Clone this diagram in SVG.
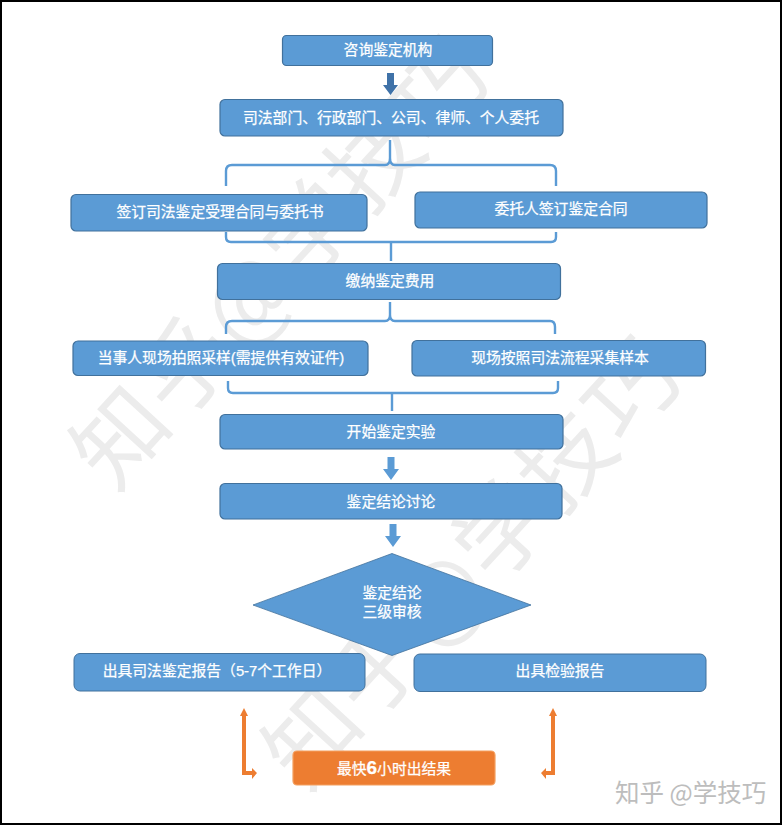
<svg xmlns="http://www.w3.org/2000/svg" width="782" height="826" viewBox="0 0 782 826">
<style>
.wm{font-family:"Noto Sans CJK SC","Noto Sans",sans-serif;font-size:92px;letter-spacing:3px;fill:#ececec;text-anchor:middle}
.b{fill:#5b9bd5;stroke:#41719c;stroke-width:1.2}
.o{fill:#ed7d31;stroke:#f4a060;stroke-width:1.2}
.t{font-family:"Liberation Sans","Noto Sans CJK SC",sans-serif;font-size:14.8px;fill:#fff;text-anchor:middle;stroke:#fff;stroke-width:.25}
.br{fill:none;stroke:#5b9bd5;stroke-width:2.4}
.ar{fill:#5b9bd5}
.oa{fill:#ed7d31}
</style>
<rect x="0" y="0" width="782" height="826" fill="#fff"/>
<g id="watermark">
<text class="wm" transform="translate(305,285) rotate(-47.500)">知乎@学技巧</text>
<text class="wm" transform="translate(497,585) rotate(-47.500)">知乎@学技巧</text>
</g>
<rect x="1" y="1" width="780" height="823" fill="none" stroke="#000" stroke-width="2"/>
<g id="connectors">
<path d="M390 140V158Q390 165 385 165H232Q226 165 226 171V186M390 158Q390 165 395 165H550Q556 165 556 171V186" class="br"/>
<path d="M226 232V237Q226 242 231 242H551Q556 242 556 237V232M391 242V261" class="br"/>
<path d="M390 302V315Q390 321 385 321H232Q226 321 226 327V334M390 315Q390 321 395 321H550Q555 321 555 327V334" class="br"/>
<path d="M228 381V388Q228 393 233 393H553Q558 393 558 388V381M392 393V411" class="br"/>
<path d="M387 73H394V85H398L390.5 95L383 85H387Z" fill="#3f72a8"/>
<path d="M387.500 457H394.500V469H399L391 480L383 469H387.500Z" class="ar"/>
<path d="M389.500 524H396.500V536H401L393 547L385 536H389.500Z" class="ar"/>
<path d="M244 708L248 716H246V771H252V768L257 773L252 779V775H242V716H240Z" class="oa"/>
<path d="M553 708L557 716H555V775H546V779L541 773L546 768V771H551V716H549Z" class="oa"/>
</g>
<g id="n1"><rect class="b" x="282.500" y="35.500" width="210" height="30" rx="4"/><text class="t" x="388" y="55">咨询鉴定机构</text></g>
<g id="n2"><rect class="b" x="220" y="99.500" width="343" height="36.500" rx="5"/><text class="t" x="391" y="123">司法部门、行政部门、公司、律师、个人委托</text></g>
<g id="n3"><rect class="b" x="71" y="194.500" width="296" height="36.500" rx="5"/><text class="t" x="220" y="217">签订司法鉴定受理合同与委托书</text></g>
<g id="n4"><rect class="b" x="415" y="192" width="292" height="36" rx="5"/><text class="t" x="561" y="214">委托人签订鉴定合同</text></g>
<g id="n5"><rect class="b" x="217.500" y="263.500" width="343" height="36" rx="5"/><text class="t" x="390" y="286">缴纳鉴定费用</text></g>
<g id="n6"><rect class="b" x="73" y="341" width="295" height="34.500" rx="5"/><text class="t" x="221" y="363">当事人现场拍照采样(需提供有效证件)</text></g>
<g id="n7"><rect class="b" x="412" y="340.500" width="293.500" height="35.500" rx="5"/><text class="t" x="560" y="363">现场按照司法流程采集样本</text></g>
<g id="n8"><rect class="b" x="220" y="414.500" width="343" height="34.500" rx="5"/><text class="t" x="391" y="437">开始鉴定实验</text></g>
<g id="n9"><rect class="b" x="220" y="483.500" width="342" height="35.500" rx="5"/><text class="t" x="391" y="507">鉴定结论讨论</text></g>
<g id="n11"><rect class="b" x="74" y="653.500" width="291" height="37.500" rx="6" style="stroke-width:1"/><text class="t" x="217" y="676">出具司法鉴定报告（5-7个工作日）</text></g>
<g id="n12"><rect class="b" x="414" y="654" width="292" height="37.500" rx="6" style="stroke-width:1"/><text class="t" x="560" y="676">出具检验报告</text></g>
<g id="n10"><path d="M392 553.500L531 605L392 655.500L253 605Z" fill="#5b9bd5" stroke="#41719c" stroke-width=".8"/><text class="t" x="392" y="598">鉴定结论</text><text class="t" x="392" y="617">三级审核</text></g>
<g id="n13"><rect class="o" x="293" y="751" width="202" height="34" rx="4"/><text class="t" x="394" y="774">最快<tspan font-weight="700" font-size="19">6</tspan>小时出结果</text></g>
<text x="615" y="802" style="font-family:'Noto Sans CJK SC',sans-serif;font-size:24.500px;fill:#bdbdbd">知乎 @学技巧</text>
</svg>
